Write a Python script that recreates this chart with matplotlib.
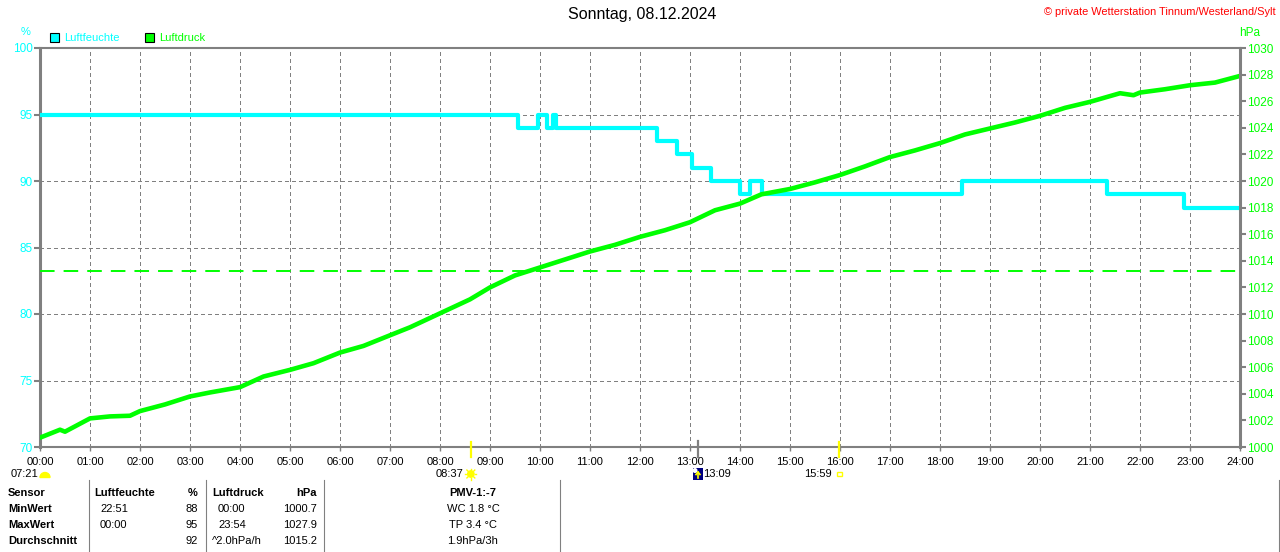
import matplotlib
matplotlib.use("Agg")
import matplotlib.pyplot as plt
from matplotlib.patches import Rectangle, Wedge, Circle

plt.rcParams['font.family'] = ['Liberation Sans', 'DejaVu Sans']
plt.rcParams['lines.scale_dashes'] = False

CYAN = '#00FFFF'
GREEN = '#00FF00'
GRAY = '#808080'

# Luftfeuchte (%), steps, time in hours
hum_time = [0, 9.56, 9.96, 10.13, 10.25, 10.31, 12.33, 12.73, 13.03, 13.41,
            14.0, 14.2, 14.44, 18.43, 21.33, 22.87, 24]
hum_val = [95, 94, 95, 94, 95, 94, 93, 92, 91, 90,
           89, 90, 89, 90, 89, 88, 88]

# Luftdruck (hPa)
pres_time = [0, 0.4, 0.5, 1, 1.4, 1.8, 2, 2.5, 3, 3.4, 4, 4.47, 5, 5.47, 6, 6.47,
             7, 7.4, 8, 8.6, 9, 9.5, 10, 10.5, 11, 11.5, 12, 12.5, 13, 13.5, 14,
             14.43, 15, 15.5, 16, 16.5, 17, 17.5, 18, 18.5, 19, 19.5, 20, 20.5,
             21, 21.6, 21.87, 22, 22.5, 23, 23.5, 24]
pres_val = [1000.7, 1001.3, 1001.15, 1002.15, 1002.3, 1002.35, 1002.7, 1003.2,
            1003.8, 1004.1, 1004.5, 1005.3, 1005.8, 1006.3, 1007.1, 1007.6,
            1008.4, 1009.0, 1010.05, 1011.1, 1012.0, 1012.9, 1013.5, 1014.1,
            1014.7, 1015.2, 1015.8, 1016.3, 1016.9, 1017.8, 1018.3,
            1019.0, 1019.4, 1019.9, 1020.45, 1021.1, 1021.8, 1022.3, 1022.85,
            1023.5, 1023.95, 1024.4, 1024.9, 1025.5, 1025.95, 1026.6, 1026.45,
            1026.65, 1026.9, 1027.2, 1027.4, 1027.9]
pres_ref = 1013.25

hour_labels = ['%02d:00' % h for h in range(25)]
hum_ticks = [70, 75, 80, 85, 90, 95, 100]
pres_ticks = list(range(1000, 1031, 2))

# sun / moon events: (time label, hour)
sunrise_dawn = '07:21'
sunrise = ('08:37', 8.617)
moon = ('13:09', 13.15)
sunset = ('15:59', 15.983)

# table below the chart
row_names = ['Sensor', 'MinWert', 'MaxWert', 'Durchschnitt']
hum_times_tab = ['', '22:51', '00:00', '']
hum_vals_tab = ['%', '88', '95', '92']
pres_times_tab = ['', '00:00', '23:54', '^2.0hPa/h']
pres_vals_tab = ['hPa', '1000.7', '1027.9', '1015.2']
extra_tab = ['PMV-1:-7', 'WC 1.8 °C', 'TP 3.4 °C', '1.9hPa/3h']

fig = plt.figure(figsize=(12.8, 5.52), dpi=100)
fig.patch.set_facecolor('white')

ax = fig.add_axes([40/1280, 105/552, 1200/1280, 399/552])
ax.set_xlim(0, 24)
ax.set_ylim(70, 100)
ax.set_xticks(range(25))
ax.set_xticklabels(hour_labels, fontsize=8)
ax.set_yticks(hum_ticks)
ax.set_yticklabels([str(v) for v in hum_ticks], fontsize=8.5)
ax.tick_params(axis='y', colors=GRAY, labelcolor=CYAN, length=4, width=1.5, pad=1)
ax.tick_params(axis='x', colors=GRAY, labelcolor='black', length=3, width=1, pad=4)
ax.grid(True, color=GRAY, lw=1, linestyle=(0, (2.5, 2.4)), antialiased=False)
ax.spines['left'].set_linewidth(2.2)
for s in ['top', 'bottom']:
    ax.spines[s].set_linewidth(1.5)
for s in ax.spines.values():
    s.set_color(GRAY)
ax.spines['right'].set_visible(False)

ax.step(hum_time, hum_val, where='post', color=CYAN, lw=3, zorder=3)

ax2 = ax.twinx()
ax2.set_ylim(1000, 1030)
ax2.set_yticks(pres_ticks)
ax2.set_yticklabels([str(v) for v in pres_ticks], fontsize=8.5)
ax2.tick_params(axis='y', colors=GRAY, labelcolor=GREEN, length=4, width=1.5, pad=1)
for s in ['left', 'top', 'bottom']:
    ax2.spines[s].set_visible(False)
ax2.spines['right'].set_linewidth(2.2)
ax2.spines['right'].set_color(GRAY)
ax2.axhline(pres_ref, color=GREEN, lw=1.4, linestyle=(0, (10.5, 6.5)))
ax2.plot(pres_time, pres_val, color=GREEN, lw=3.3)

# overlay in pixel coordinates
ov = fig.add_axes([0, 0, 1, 1])
ov.set_xlim(0, 1280)
ov.set_ylim(552, 0)
ov.axis('off')
ov.patch.set_alpha(0)

ov.text(642, 15, 'Sonntag, 08.12.2024', ha='center', va='center', fontsize=11.5)
ov.text(1276, 12, '© private Wetterstation Tinnum/Westerland/Sylt', ha='right',
        va='center', fontsize=7.9, color='red')
ov.text(26, 32, '%', ha='center', va='center', fontsize=8, color=CYAN)
ov.text(1250, 33, 'hPa', ha='center', va='center', fontsize=8.5, color=GREEN)

ov.add_patch(Rectangle((50, 33), 9, 9, facecolor=CYAN, edgecolor='black', lw=0.8))
ov.text(64, 38, 'Luftfeuchte', va='center', fontsize=8, color=CYAN)
ov.add_patch(Rectangle((145, 33), 9, 9, facecolor=GREEN, edgecolor='black', lw=0.8))
ov.text(159, 38, 'Luftdruck', va='center', fontsize=8, color=GREEN)

def hx(h):
    return 40 + h * 50

# event marks
ov.plot([hx(sunrise[1])] * 2, [442, 457], color='#FFFF00', lw=1.6)
ov.plot([hx(sunset[1])] * 2, [442, 457], color='#FFFF00', lw=1.6)
ov.plot([hx(moon[1])] * 2, [441, 457], color=GRAY, lw=1.6)

ov.text(38, 474, sunrise_dawn, ha='right', va='center', fontsize=8)
ov.add_patch(Wedge((45, 477.5), 5, 180, 360, color='#FFFF00'))

ov.text(hx(sunrise[1]) - 7, 474, sunrise[0], ha='right', va='center', fontsize=8)
ov.add_patch(Circle((hx(sunrise[1]), 474), 3.2, color='#FFFF00'))
for dx, dy in [(5, 0), (-5, 0), (0, 5), (0, -5), (3.6, 3.6), (-3.6, 3.6), (3.6, -3.6), (-3.6, -3.6)]:
    ov.plot([hx(sunrise[1]) + dx * 0.8, hx(sunrise[1]) + dx * 1.1],
            [474 + dy * 0.8, 474 + dy * 1.1], color='#FFFF00', lw=1)

mx = hx(moon[1])
ov.add_patch(Rectangle((mx - 4.5, 467.5), 10, 12, facecolor='#000080', edgecolor='none'))
ov.add_patch(Circle((mx - 2.5, 470.5), 1.8, color='white'))
ov.plot([mx + 0.5, mx + 0.5], [478, 472], color='#FFFF00', lw=1.2)
ov.plot([mx - 1.5, mx + 0.5, mx + 2.5], [474.5, 472, 474.5], color='#FFFF00', lw=1.2)
ov.text(mx + 5.5, 474, moon[0], ha='left', va='center', fontsize=8)

ov.text(hx(sunset[1]) - 7, 474, sunset[0], ha='right', va='center', fontsize=8)
ov.add_patch(Rectangle((hx(sunset[1]) - 2, 471.5), 4.5, 4.5, facecolor='none',
                       edgecolor='#FFFF00', lw=1))

# table
for x in [88.5, 205.5, 323.5, 559.5, 1278.5]:
    ov.plot([x, x], [480, 552], color=GRAY, lw=0.8)

row_y = [493, 509.5, 525.5, 541.5]
for i, y in enumerate(row_y):
    bold = 'bold' if i == 0 else 'normal'
    ov.text(8, y, row_names[i], va='center', fontsize=8, fontweight='bold')
    if i == 0:
        ov.text(94, y, 'Luftfeuchte', va='center', fontsize=8, fontweight='bold')
        ov.text(212, y, 'Luftdruck', va='center', fontsize=8, fontweight='bold')
    else:
        ov.text(100, y, hum_times_tab[i], va='center', fontsize=8)
        x0 = 212 if pres_times_tab[i].startswith('^') else 218
        ov.text(x0, y, pres_times_tab[i], va='center', fontsize=8)
    ov.text(198, y, hum_vals_tab[i], ha='right', va='center', fontsize=8, fontweight=bold)
    ov.text(317, y, pres_vals_tab[i], ha='right', va='center', fontsize=8, fontweight=bold)
    ov.text(473, y, extra_tab[i], ha='center', va='center', fontsize=8, fontweight=bold)

fig.savefig('out.png', dpi=100)
